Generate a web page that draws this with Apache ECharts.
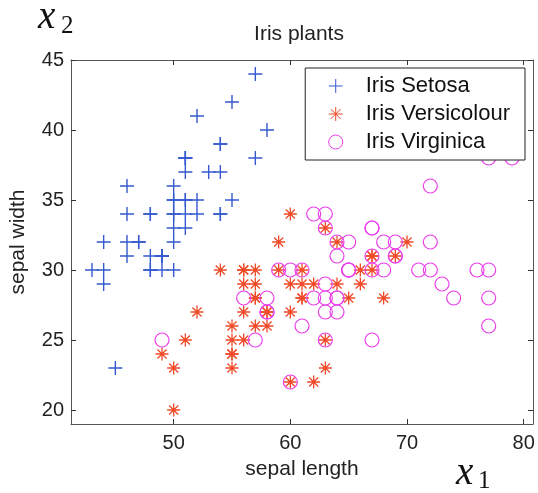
<!DOCTYPE html>
<html>
<head>
<meta charset="utf-8">
<script src="https://cdn.jsdelivr.net/npm/echarts@6/dist/echarts.min.js"></script>
<style>
    html, body { margin: 0; padding: 0; background: #fff; }
    #main { width: 538px; height: 493px; }
</style>
</head>
<body>
<div id="main"></div>
<script>
    // sepal length, sepal width (mm)
    const setosa = [
        [51,35],[49,30],[47,32],[46,31],[50,36],[54,39],[46,34],[50,34],[44,29],[49,31],
        [54,37],[48,34],[48,30],[43,30],[58,40],[57,44],[54,39],[51,35],[57,38],[51,38],
        [54,34],[51,37],[46,36],[51,33],[48,34],[50,30],[50,34],[52,35],[52,34],[47,32],
        [48,31],[54,34],[52,41],[55,42],[49,31],[50,32],[55,35],[49,31],[44,30],[51,34],
        [50,35],[45,23],[44,32],[50,35],[51,38],[48,30],[51,38],[46,32],[53,37],[50,33]
    ]
    const versicolour = [
        [70,32],[64,32],[69,31],[55,23],[65,28],[57,28],[63,33],[49,24],[66,29],[52,27],
        [50,20],[59,30],[60,22],[61,29],[56,29],[67,31],[56,30],[58,27],[62,22],[56,25],
        [59,32],[61,28],[63,25],[61,28],[64,29],[66,30],[68,28],[67,30],[60,29],[57,26],
        [55,24],[55,24],[58,27],[60,27],[54,30],[60,34],[67,31],[63,23],[56,30],[55,25],
        [55,26],[61,30],[58,26],[50,23],[56,27],[57,30],[57,29],[62,29],[51,25],[57,28]
    ]
    const virginica = [
        [63,33],[58,27],[71,30],[63,29],[65,30],[76,30],[49,25],[73,29],[67,25],[72,36],
        [65,32],[64,27],[68,30],[57,25],[58,28],[64,32],[65,30],[77,38],[77,26],[60,22],
        [69,32],[56,28],[77,28],[63,27],[67,33],[72,32],[62,28],[61,30],[64,28],[72,30],
        [74,28],[79,38],[64,28],[63,28],[61,26],[77,30],[63,34],[64,31],[60,30],[69,31],
        [67,31],[69,31],[58,27],[68,32],[67,33],[67,30],[63,25],[65,30],[62,34],[59,30]
    ]
    const xTicks = [50, 60, 70, 80]
    const yTicks = [20, 25, 30, 35, 40, 45]

    const myChart = echarts.init(document.getElementById('main'))

    const font = 'Liberation Sans, Arial, sans-serif'
    const serif = 'Liberation Serif, serif'
    const axisCommon = {
        type: 'value',
        axisLine: { show: true, onZero: false, lineStyle: { color: '#555', width: 1 } },
        axisTick: { show: true, inside: true, length: 5, lineStyle: { color: '#333' } },
        splitLine: { show: false },
        axisLabel: { show: false }
    }

    const option = {
        animation: false,
        backgroundColor: '#fff',
        title: {
            text: 'Iris plants',
            left: 294,
            top: 19,
            textAlign: 'center',
            textStyle: { fontFamily: font, fontSize: 21, fontWeight: 'normal', color: '#222' }
        },
        grid: { left: 70, right: 5, top: 60, bottom: 69 },
        xAxis: [
            Object.assign({}, axisCommon, {
                min: 41.2, max: 80.8, position: 'bottom',
                axisTick: Object.assign({}, axisCommon.axisTick, { customValues: xTicks }),
                axisLabel: { show: true, customValues: xTicks, margin: 9, fontFamily: font, fontSize: 20, color: '#222' },
                name: 'sepal length', nameLocation: 'middle', nameGap: 35,
                nameTextStyle: { fontFamily: font, fontSize: 21, color: '#222' }
            }),
            Object.assign({}, axisCommon, {
                min: 41.2, max: 80.8, position: 'top',
                axisTick: Object.assign({}, axisCommon.axisTick, { customValues: xTicks })
            })
        ],
        yAxis: [
            Object.assign({}, axisCommon, {
                min: 19, max: 45, position: 'left',
                axisTick: Object.assign({}, axisCommon.axisTick, { customValues: yTicks }),
                axisLabel: { show: true, customValues: yTicks, margin: 7, fontFamily: font, fontSize: 20, color: '#222' },
                name: 'sepal width', nameLocation: 'middle', nameGap: 42,
                nameTextStyle: { fontFamily: font, fontSize: 21, color: '#222' }
            }),
            Object.assign({}, axisCommon, {
                min: 19, max: 45, position: 'right',
                axisTick: Object.assign({}, axisCommon.axisTick, { customValues: yTicks })
            })
        ],
        legend: {
            orient: 'vertical',
            right: 13,
            top: 68,
            z: 10,
            backgroundColor: '#fff',
            borderColor: '#222',
            borderWidth: 1,
            padding: [7, 15, 7, 23],
            itemGap: 6,
            itemWidth: 14,
            itemHeight: 14,
            itemStyle: { borderWidth: 1 },
            textStyle: { fontFamily: font, fontSize: 22, color: '#111', padding: [0, 0, 0, 18] },
            data: ['Iris Setosa', 'Iris Versicolour', 'Iris Virginica']
        },
        graphic: [
            { type: 'text', x: 38, y: -2, style: { text: 'x', fontFamily: serif, fontStyle: 'italic', fontSize: 39, fill: '#111' } },
            { type: 'text', x: 61, y: 14, style: { text: '2', fontFamily: serif, fontSize: 25, fill: '#111' } },
            { type: 'text', x: 456, y: 454, style: { text: 'x', fontFamily: serif, fontStyle: 'italic', fontSize: 39, fill: '#111' } },
            { type: 'text', x: 478, y: 469, style: { text: '1', fontFamily: serif, fontSize: 25, fill: '#111' } }
        ],
        series: [
            {
                name: 'Iris Setosa',
                type: 'scatter',
                data: setosa,
                symbol: 'path://M0,5L10,5M5,0L5,10',
                symbolSize: 14,
                itemStyle: { color: 'rgba(0,0,0,0)', borderColor: '#3459d0', borderWidth: 1.4, opacity: 1 }
            },
            {
                name: 'Iris Versicolour',
                type: 'scatter',
                data: versicolour,
                symbol: 'path://M0,5L10,5M5,0L5,10M1.5,1.5L8.5,8.5M1.5,8.5L8.5,1.5',
                symbolSize: 13,
                itemStyle: { color: 'rgba(0,0,0,0)', borderColor: '#f04a28', borderWidth: 1.3, opacity: 1 }
            },
            {
                name: 'Iris Virginica',
                type: 'scatter',
                data: virginica,
                symbol: 'circle',
                symbolSize: 14,
                itemStyle: { color: 'rgba(0,0,0,0)', borderColor: '#ea3fea', borderWidth: 1.2, opacity: 1 }
            }
        ]
    }

    option && myChart.setOption(option)
</script>
</body>
</html>
